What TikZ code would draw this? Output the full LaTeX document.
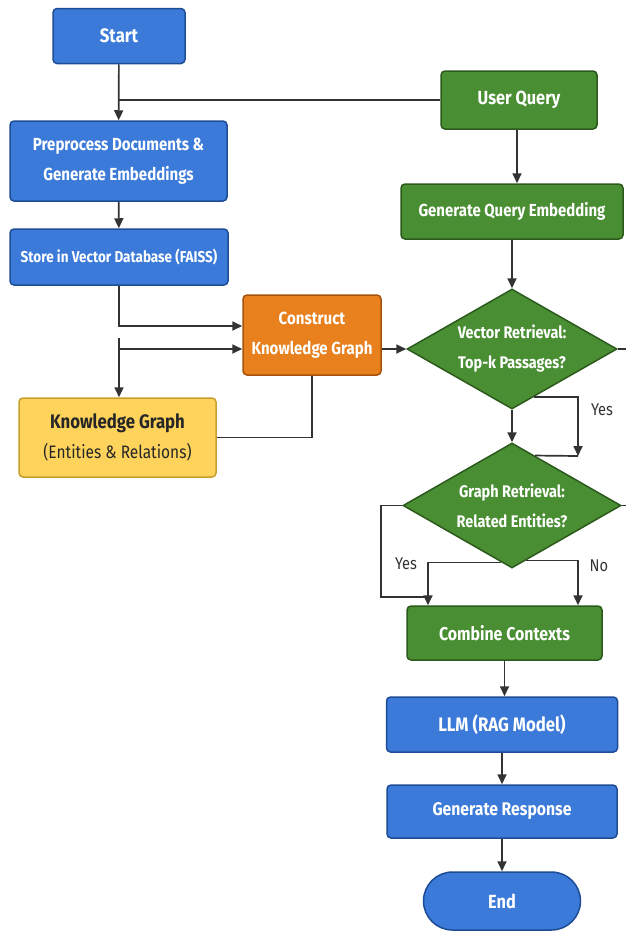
\documentclass[tikz,border=0pt]{standalone}
\usepackage{fontspec}
\setmainfont{Fira Sans}[FakeStretch=0.86]
\usetikzlibrary{shapes.geometric,arrows.meta,calc}
\definecolor{bfill}{HTML}{3B7AD9}
\definecolor{bdraw}{HTML}{1E4C95}
\definecolor{gfill}{HTML}{4A8E33}
\definecolor{gdraw}{HTML}{2C5A1C}
\definecolor{ofill}{HTML}{E8801E}
\definecolor{odraw}{HTML}{A4520E}
\definecolor{yfill}{HTML}{FDD35C}
\definecolor{ydraw}{HTML}{C89E2E}
\definecolor{lcol}{HTML}{333333}
\tikzset{
  box/.style={rectangle,rounded corners=4pt,line width=1.5pt,text=white,font=\bfseries\fontsize{17.5}{30}\selectfont,align=center,inner sep=0pt},
  bluebox/.style={box,fill=bfill,draw=bdraw},
  greenbox/.style={box,fill=gfill,draw=gdraw},
  orangebox/.style={box,fill=ofill,draw=odraw},
  yellowbox/.style={box,fill=yfill,draw=ydraw,text=black!85},
  dec/.style={diamond,fill=gfill,draw=gdraw,line width=1.5pt,text=white,font=\bfseries\fontsize{16.8}{30}\selectfont,align=center,inner sep=0pt,aspect=1.75},
  conn/.style={draw=lcol,line width=1.7pt},
  arr/.style={conn,-{Triangle[length=10pt,width=9pt]}},
  lab/.style={font=\fontsize{17}{20}\selectfont,text=black!80}
}
\begin{document}
\begin{tikzpicture}[x=1pt,y=-1pt]
\useasboundingbox (0,0) rectangle (626,932);
\node[bluebox,minimum width=132pt,minimum height=55pt] (start) at (119,36) {\fontsize{19.5}{22}\selectfont Start};
\node[greenbox,minimum width=156pt,minimum height=58pt] (uq) at (519,100) {\fontsize{19}{22}\selectfont User Query};
\node[bluebox,minimum width=217pt,minimum height=80pt] (pre) at (118.5,161) {Preprocess Documents \&\\Generate Embeddings};
\node[bluebox,minimum width=218pt,minimum height=56pt] (store) at (119,257) {\fontsize{15.7}{18}\selectfont Store in Vector Database (FAISS)};
\node[greenbox,minimum width=222pt,minimum height=55pt] (gqe) at (512,211.5) {\fontsize{17.4}{20}\selectfont Generate Query Embedding};
\node[orangebox,minimum width=138pt,minimum height=80pt] (ckg) at (312,335) {Construct\\Knowledge Graph};
\node[yellowbox,minimum width=197pt,minimum height=79pt] (kg) at (117.5,437.5) {\fontsize{19.5}{32}\selectfont Knowledge Graph\\\fontsize{18}{32}\selectfont\mdseries (Entities \& Relations)};
\node[dec,minimum width=210pt,minimum height=120pt] (vr) at (512,349) {Vector Retrieval:\\Top-k Passages?};
\node[dec,minimum width=218pt,minimum height=125pt] (gr) at (512,505.5) {Graph Retrieval:\\Related Entities?};
\node[greenbox,minimum width=195pt,minimum height=54pt] (cc) at (504.5,633) {\fontsize{18.5}{22}\selectfont Combine Contexts};
\node[bluebox,minimum width=231pt,minimum height=55pt] (llm) at (502,724.5) {\fontsize{19.5}{22}\selectfont LLM (RAG Model)};
\node[bluebox,minimum width=230pt,minimum height=53pt] (resp) at (502,811.5) {\fontsize{18.3}{22}\selectfont Generate Response};
\node[bluebox,rounded corners=29pt,minimum width=157pt,minimum height=58pt] (end) at (502,901) {\fontsize{19}{22}\selectfont End};

% labels
\node[lab] (yes1) at (602,410) {Yes};
\node[lab] (yes2) at (406,564) {Yes};
\node[lab] (no1) at (599,566) {No};

% coordinates
\coordinate (s1) at (119,338);
\coordinate (s2) at (119,349);
\coordinate (vrout) at (626,349);
\coordinate (grout) at (626,505.5);
\coordinate (ycorner) at (578,456);
\coordinate (lcorner) at (381,597);

% connectors
\draw[arr] (start) -- (pre);
\draw[conn] (uq.west) -- (uq.west -| start);
\draw[arr] (pre) -- (store);
\draw[arr] (uq.south -| 517,0) -- (gqe.north -| 517,0);
\draw[arr] (gqe) -- (vr);
\draw[arr] (store.south) |- ($(ckg.west)+(0,-9)$);
\draw[arr] (s1) -- (kg.north -| s1);
\draw[arr] (s2) -- (s2 -| ckg.west);
\draw[conn] (ckg.south) |- (kg.east);
\draw[arr] (vr.west -| ckg.east) -- (vr.west);
\draw[conn] (vr.east) -- (vrout);
\draw[conn] (gr.east) -- (grout);
\draw[arr] (vr.south) -- (gr.north);
\draw[arr] ($(vr.south)!0.21!(vr.east)$) -| (ycorner);
\draw[conn] (ycorner) -- ($(gr.north)!0.21!(gr.east)$);
\draw[conn] (gr.west) -| (lcorner) -- (lcorner -| 428,0);
\draw[arr] ($(gr.south)!0.1!(gr.west)$) -| (cc.north -| 428,0);
\draw[arr] ($(gr.south)!0.13!(gr.east)$) -| (cc.north -| 578,0);
\draw[arr] (cc) -- (llm.north -| cc);
\draw[arr] (llm) -- (resp);
\draw[arr] (resp) -- (end);
\end{tikzpicture}
\end{document}
